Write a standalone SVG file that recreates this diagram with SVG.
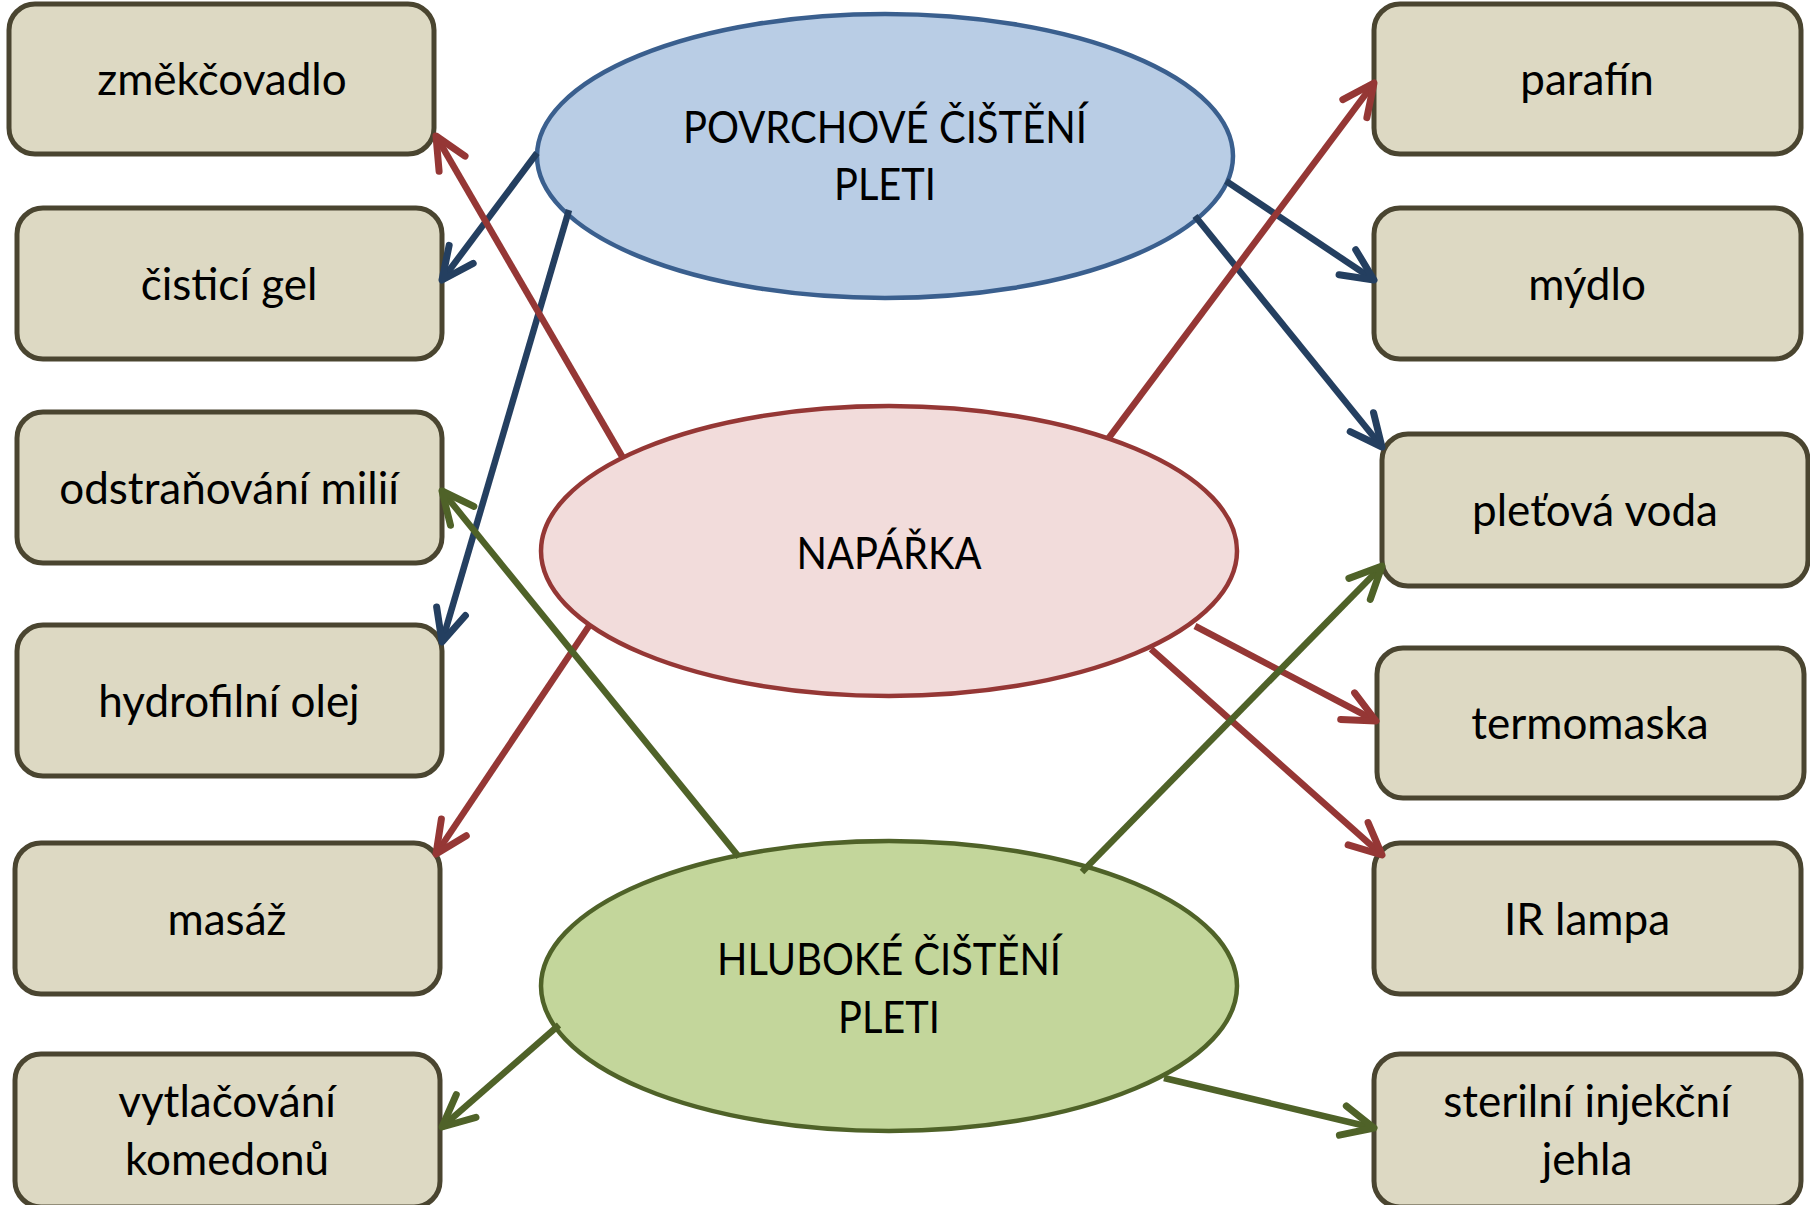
<svg xmlns="http://www.w3.org/2000/svg" width="1810" height="1205" viewBox="0 0 1810 1205">
<style>
.box{fill:#DDD9C3;stroke:#4A4530;stroke-width:5}
.t{font-family:Lato,"Open Sans","Liberation Sans",sans-serif;font-size:44px;fill:#000;text-anchor:middle}
.e1{fill:#B9CDE5;stroke:#3A5F8E;stroke-width:4.5}
.e2{fill:#F2DCDB;stroke:#953735;stroke-width:4.5}
.e3{fill:#C3D69B;stroke:#4F6228;stroke-width:4.5}
.cb{stroke:#243F60;stroke-width:6.5;fill:none;marker-end:url(#ab)}
.cr{stroke:#953735;stroke-width:6.5;fill:none;marker-end:url(#ar)}
.cg{stroke:#4F6228;stroke-width:6.5;fill:none;marker-end:url(#ag)}
</style>
<defs>
<marker id="ab" viewBox="-45 -25 55 50" markerWidth="55" markerHeight="50" refX="0" refY="0" orient="auto" markerUnits="userSpaceOnUse"><path d="M-32,-15 L0,0 L-32,15" fill="none" stroke="#243F60" stroke-width="7" stroke-linecap="round" stroke-linejoin="round"/></marker>
<marker id="ar" viewBox="-45 -25 55 50" markerWidth="55" markerHeight="50" refX="0" refY="0" orient="auto" markerUnits="userSpaceOnUse"><path d="M-32,-15 L0,0 L-32,15" fill="none" stroke="#953735" stroke-width="7" stroke-linecap="round" stroke-linejoin="round"/></marker>
<marker id="ag" viewBox="-45 -25 55 50" markerWidth="55" markerHeight="50" refX="0" refY="0" orient="auto" markerUnits="userSpaceOnUse"><path d="M-32,-15 L0,0 L-32,15" fill="none" stroke="#4F6228" stroke-width="7" stroke-linecap="round" stroke-linejoin="round"/></marker>
</defs>
<rect width="1810" height="1205" fill="#fff"/>
<g id="n-zmekcovadlo"><rect class="box" x="9" y="4" width="425" height="150" rx="26"/><text class="t" x="222" y="95">změkčovadlo</text></g>
<g id="n-cistici-gel"><rect class="box" x="17" y="208" width="425" height="151" rx="26"/><text class="t" x="229" y="300">čisticí gel</text></g>
<g id="n-odstranovani"><rect class="box" x="17" y="412" width="425" height="151" rx="26"/><text class="t" x="229" y="504">odstraňování milií</text></g>
<g id="n-hydrofilni"><rect class="box" x="17" y="625" width="425" height="151" rx="26"/><text class="t" x="229" y="717">hydrofilní olej</text></g>
<g id="n-masaz"><rect class="box" x="15" y="843" width="425" height="151" rx="26"/><text class="t" x="227" y="935">masáž</text></g>
<g id="n-vytlacovani"><rect class="box" x="15" y="1054" width="425" height="153" rx="26"/><text class="t" x="227" y="1117">vytlačování</text><text class="t" x="227" y="1175">komedonů</text></g>
<g id="n-parafin"><rect class="box" x="1374" y="4" width="427" height="150" rx="26"/><text class="t" x="1587" y="95">parafín</text></g>
<g id="n-mydlo"><rect class="box" x="1374" y="208" width="427" height="151" rx="26"/><text class="t" x="1587" y="300">mýdlo</text></g>
<g id="n-pletova-voda"><rect class="box" x="1382" y="434" width="426" height="152" rx="26"/><text class="t" x="1595" y="526">pleťová voda</text></g>
<g id="n-termomaska"><rect class="box" x="1377" y="648" width="427" height="150" rx="26"/><text class="t" x="1590" y="739">termomaska</text></g>
<g id="n-ir-lampa"><rect class="box" x="1374" y="843" width="427" height="151" rx="26"/><text class="t" x="1587" y="935">IR lampa</text></g>
<g id="n-sterilni"><rect class="box" x="1374" y="1054" width="427" height="153" rx="26"/><text class="t" x="1587" y="1117">sterilní injekční</text><text class="t" x="1587" y="1175">jehla</text></g>
<g id="n-povrchove"><ellipse class="e1" cx="885" cy="156" rx="348" ry="142"/><text class="t" x="885" y="143" textLength="404" lengthAdjust="spacingAndGlyphs">POVRCHOVÉ ČIŠTĚNÍ</text><text class="t" x="885" y="200" textLength="102" lengthAdjust="spacingAndGlyphs">PLETI</text></g>
<g id="n-naparka"><ellipse class="e2" cx="889" cy="551" rx="348" ry="145"/><text class="t" x="889" y="569" textLength="185" lengthAdjust="spacingAndGlyphs">NAPÁŘKA</text></g>
<g id="n-hluboke"><ellipse class="e3" cx="889" cy="986" rx="348" ry="145"/><text class="t" x="889" y="975" textLength="344" lengthAdjust="spacingAndGlyphs">HLUBOKÉ ČIŠTĚNÍ</text><text class="t" x="889" y="1033" textLength="102" lengthAdjust="spacingAndGlyphs">PLETI</text></g>
<g id="connectors">
<line class="cb" x1="537" y1="153" x2="442" y2="280"/>
<line class="cb" x1="569" y1="210" x2="442" y2="642"/>
<line class="cb" x1="1226" y1="181" x2="1374" y2="280"/>
<line class="cb" x1="1195" y1="216" x2="1382" y2="447"/>
<line class="cr" x1="623" y1="458" x2="436" y2="136"/>
<line class="cr" x1="1108" y1="439" x2="1374" y2="83"/>
<line class="cr" x1="589" y1="626" x2="436" y2="854"/>
<line class="cr" x1="1195" y1="626" x2="1376" y2="721"/>
<line class="cr" x1="1151" y1="649" x2="1382" y2="855"/>
<line class="cg" x1="739" y1="857" x2="442" y2="491"/>
<line class="cg" x1="1082" y1="872" x2="1382" y2="566"/>
<line class="cg" x1="559" y1="1025" x2="442" y2="1127"/>
<line class="cg" x1="1164" y1="1078" x2="1374" y2="1128"/>
</g>
</svg>
